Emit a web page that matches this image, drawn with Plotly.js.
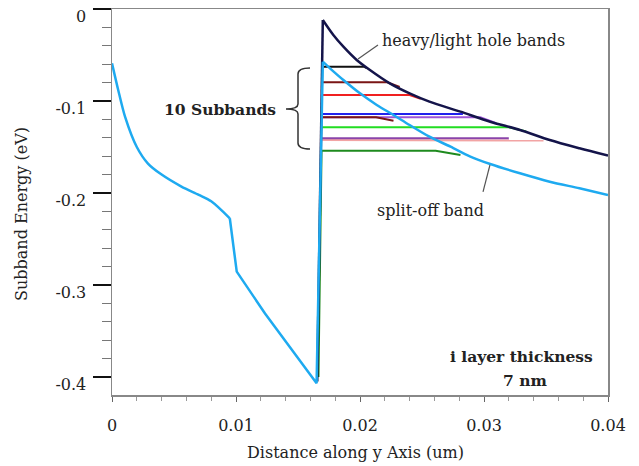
<!DOCTYPE html>
<html>
<head>
<meta charset="utf-8">
<script src="https://cdn.plot.ly/plotly-3.0.1.min.js"></script>
<style>
  html, body { margin: 0; padding: 0; background: #fff; }
  #chart { width: 639px; height: 466px; }
</style>
</head>
<body>
<div id="chart"></div>
<script>
// Valence band edge in the left region (um, eV): smooth part, then the kinked drop
const leftX = [0, 0.0005, 0.00105, 0.002, 0.0029, 0.004, 0.0056, 0.007, 0.008, 0.0095];
const leftY = [-0.059, -0.088, -0.117, -0.150, -0.168, -0.180, -0.193, -0.202, -0.209, -0.2275];
const dropX = [0.0095, 0.01006, 0.01234, 0.0145, 0.0165, 0.0170];
const dropY = [-0.2275, -0.2855, -0.331, -0.3707, -0.4069, -0.0573];

// Split-off band inside the i layer
const splitX = [0.0170, 0.01758, 0.01866, 0.0200, 0.02135, 0.0227, 0.0240, 0.0256, 0.0273, 0.0289, 0.0305, 0.0329, 0.0353, 0.0377, 0.0400];
const splitY = [-0.0573, -0.0645, -0.0772, -0.0917, -0.1043, -0.1152, -0.1261, -0.1388, -0.1497, -0.1605, -0.1685, -0.1786, -0.1877, -0.1949, -0.2022];

// Heavy/light hole band edge: wall, then the decaying edge
const wallX = [0.01655, 0.0170];
const wallY = [-0.405, -0.012];
const holeX = [0.0170, 0.01785, 0.01866, 0.01973, 0.0208, 0.0224, 0.0240, 0.0256, 0.0281, 0.0305, 0.0329, 0.0353, 0.0377, 0.0400];
const holeY = [-0.012, -0.0283, -0.041, -0.0554, -0.0663, -0.0808, -0.0917, -0.1007, -0.1116, -0.1225, -0.1315, -0.1424, -0.1514, -0.1594];

// Ten confined subbands: energy, end of flat part, end point
const subStart = 0.0169;
const subE       = [-0.0627, -0.0797, -0.0935, -0.1141, -0.1178, -0.1178, -0.1286, -0.1424, -0.1406, -0.1540];
const subFlatEnd = [ 0.0203,  0.0222,  0.0240,  0.0281,  0.0297,  0.0213,  0.0320,  0.0345,  0.0318,  0.0261];
const subEndX    = [ 0.0205,  0.0232,  0.0249,  0.0283,  0.0310,  0.0227,  0.0334,  0.0348,  0.0320,  0.0281];
const subEndY    = [-0.0640, -0.0848, -0.0975, -0.1141, -0.1240, -0.1215, -0.1330, -0.1430, -0.1406, -0.1587];
const subColors  = ['#111111', '#7a1515', '#f02020', '#2222ee', '#a055d8', '#7a1515', '#22dd22', '#f2a4a4', '#8a44aa', '#1e8a1e'];

const xTicks = [0, 0.01, 0.02, 0.03, 0.04];
const xTickText = ['0', '0.01', '0.02', '0.03', '0.04'];
const yTicks = [0, -0.1, -0.2, -0.3, -0.4];
const yTickText = ['0', '-0.1', '-0.2', '-0.3', '-0.4'];

const serif = 'DejaVu Serif, Liberation Serif, serif';
const ink = '#222';
const cyan = '#1eaaf0';
const navy = '#14144a';

function line(xs, ys, color, width, shape) {
  return { x: xs, y: ys, mode: 'lines', type: 'scatter', hoverinfo: 'skip',
           line: { color: color, width: width, shape: shape || 'linear', smoothing: 0.8 } };
}

const traces = [];

subE.forEach((e, i) => {
  const xs = [subStart, subFlatEnd[i], subEndX[i]];
  const ys = [e, e, subEndY[i]];
  if (i === subE.length - 1) { xs.unshift(0.01665); ys.unshift(-0.40); }
  traces.push(line(xs, ys, subColors[i], 2));
});

traces.push(line(wallX, wallY, navy, 2.5));
traces.push(line(holeX, holeY, navy, 2.5, 'spline'));
traces.push(line(leftX, leftY, cyan, 2.5, 'spline'));
traces.push(line(dropX, dropY, cyan, 2.5));
traces.push(line(splitX, splitY, cyan, 2.5, 'spline'));

// curly brace grouping the subbands
const brace = 'M 0.01597,-0.0641 Q 0.0150,-0.0641 0.0150,-0.0707 L 0.0150,-0.1033 ' +
              'Q 0.0150,-0.1087 0.01403,-0.1087 Q 0.0150,-0.1087 0.0150,-0.1141 ' +
              'L 0.0150,-0.1457 Q 0.0150,-0.1522 0.01597,-0.1522';

const layout = {
  width: 639, height: 466,
  margin: { l: 112, r: 31, t: 9, b: 71 },
  paper_bgcolor: '#ffffff', plot_bgcolor: '#ffffff',
  showlegend: false,
  font: { family: serif, color: ink, size: 16 },
  xaxis: {
    range: [0, 0.04],
    tickmode: 'array', tickvals: xTicks, ticktext: xTickText,
    showgrid: false, zeroline: false,
    showline: true, linecolor: '#888', linewidth: 1.5, mirror: true,
    ticks: 'outside', ticklen: 5, tickwidth: 1, tickcolor: '#666',
    ticklabelstandoff: 10,
    minor: { tickmode: 'linear', tick0: 0, dtick: 0.002, ticks: 'outside', ticklen: 4, tickcolor: '#999', tickwidth: 1 },
    tickfont: { family: serif, size: 16, color: ink }
  },
  yaxis: {
    range: [-0.4196, 0],
    tickmode: 'array', tickvals: yTicks, ticktext: yTickText,
    showgrid: false, zeroline: false,
    showline: true, linecolor: '#888', linewidth: 1.5, mirror: true,
    ticks: 'outside', ticklen: 18, tickwidth: 2, tickcolor: '#111',
    ticklabelstandoff: 3, ticklabelshift: 7, ticklabeloverflow: 'allow',
    minor: { tickmode: 'linear', tick0: 0, dtick: 0.02, ticks: 'outside', ticklen: 9, tickcolor: '#777', tickwidth: 1 },
    tickfont: { family: serif, size: 16, color: ink }
  },
  shapes: [
    { type: 'path', xref: 'x', yref: 'y', path: brace, line: { color: '#333', width: 1.5 } },
    { type: 'line', xref: 'x', yref: 'y', x0: 0.02145, y0: -0.0391, x1: 0.01984, y1: -0.0543, line: { color: '#555', width: 1.2 } },
    { type: 'line', xref: 'x', yref: 'y', x0: 0.03048, y0: -0.1696, x1: 0.02992, y1: -0.1989, line: { color: '#555', width: 1.2 } }
  ],
  annotations: [
    { xref: 'paper', yref: 'paper', x: 0.49, y: -0.1477, xanchor: 'center', yanchor: 'middle', showarrow: false,
      text: 'Distance along y Axis (um)', font: { family: serif, size: 16, color: ink } },
    { xref: 'paper', yref: 'paper', x: -0.1815, y: 0.469, xanchor: 'center', yanchor: 'middle', showarrow: false,
      textangle: -90, text: 'Subband Energy (eV)', font: { family: serif, size: 16, color: ink } },
    { xref: 'x', yref: 'y', x: 0.00871, y: -0.1087, xanchor: 'center', yanchor: 'middle', showarrow: false,
      text: '10 Subbands', font: { family: serif, size: 15.5, color: ink, weight: 'bold' } },
    { xref: 'x', yref: 'y', x: 0.02161, y: -0.0337, xanchor: 'left', yanchor: 'middle', showarrow: false,
      text: 'heavy/light hole bands', font: { family: serif, size: 16, color: ink } },
    { xref: 'x', yref: 'y', x: 0.02565, y: -0.2185, xanchor: 'center', yanchor: 'middle', showarrow: false,
      text: 'split-off band', font: { family: serif, size: 16, color: ink } },
    { xref: 'x', yref: 'y', x: 0.03306, y: -0.3772, xanchor: 'center', yanchor: 'middle', showarrow: false,
      text: 'i layer thickness', font: { family: serif, size: 15.5, color: ink, weight: 'bold' } },
    { xref: 'x', yref: 'y', x: 0.0333, y: -0.4033, xanchor: 'center', yanchor: 'middle', showarrow: false,
      text: '7 nm', font: { family: serif, size: 15.5, color: ink, weight: 'bold' } }
  ]
};

Plotly.newPlot('chart', traces, layout, { displayModeBar: false, staticPlot: true });
</script>
</body>
</html>
